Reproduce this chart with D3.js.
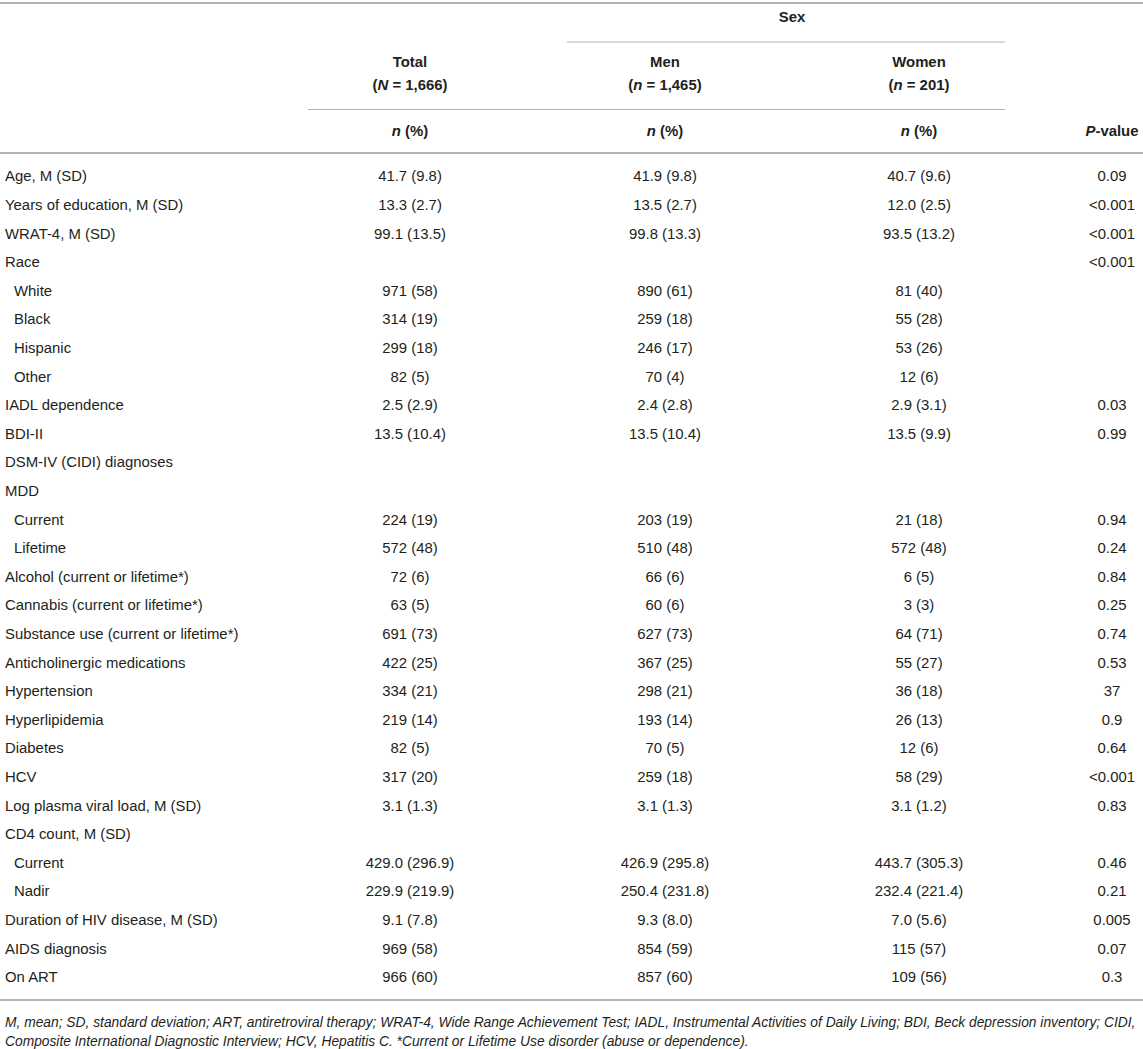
<!DOCTYPE html>
<html><head><meta charset="utf-8">
<script src="https://cdn.jsdelivr.net/npm/d3@7"></script>
<style>
html,body{margin:0;padding:0;background:#fff;}
svg{display:block;font-family:"Liberation Sans",Arial,Helvetica,sans-serif;}
</style></head>
<body>
<svg id="t" width="1143" height="1049"></svg>
<script>
const labels = ["Age, M (SD)","Years of education, M (SD)","WRAT-4, M (SD)","Race","White","Black","Hispanic","Other","IADL dependence","BDI-II","DSM-IV (CIDI) diagnoses","MDD","Current","Lifetime","Alcohol (current or lifetime*)","Cannabis (current or lifetime*)","Substance use (current or lifetime*)","Anticholinergic medications","Hypertension","Hyperlipidemia","Diabetes","HCV","Log plasma viral load, M (SD)","CD4 count, M (SD)","Current","Nadir","Duration of HIV disease, M (SD)","AIDS diagnosis","On ART"];
const indented = [0,0,0,0,1,1,1,1,0,0,0,0,1,1,0,0,0,0,0,0,0,0,0,0,1,1,0,0,0];
const totalVals = ["41.7 (9.8)","13.3 (2.7)","99.1 (13.5)","","971 (58)","314 (19)","299 (18)","82 (5)","2.5 (2.9)","13.5 (10.4)","","","224 (19)","572 (48)","72 (6)","63 (5)","691 (73)","422 (25)","334 (21)","219 (14)","82 (5)","317 (20)","3.1 (1.3)","","429.0 (296.9)","229.9 (219.9)","9.1 (7.8)","969 (58)","966 (60)"];
const menVals = ["41.9 (9.8)","13.5 (2.7)","99.8 (13.3)","","890 (61)","259 (18)","246 (17)","70 (4)","2.4 (2.8)","13.5 (10.4)","","","203 (19)","510 (48)","66 (6)","60 (6)","627 (73)","367 (25)","298 (21)","193 (14)","70 (5)","259 (18)","3.1 (1.3)","","426.9 (295.8)","250.4 (231.8)","9.3 (8.0)","854 (59)","857 (60)"];
const womenVals = ["40.7 (9.6)","12.0 (2.5)","93.5 (13.2)","","81 (40)","55 (28)","53 (26)","12 (6)","2.9 (3.1)","13.5 (9.9)","","","21 (18)","572 (48)","6 (5)","3 (3)","64 (71)","55 (27)","36 (18)","26 (13)","12 (6)","58 (29)","3.1 (1.2)","","443.7 (305.3)","232.4 (221.4)","7.0 (5.6)","115 (57)","109 (56)"];
const pVals = ["0.09","<0.001","<0.001","<0.001","","","","","0.03","0.99","","","0.94","0.24","0.84","0.25","0.74","0.53","37","0.9","0.64","<0.001","0.83","","0.46","0.21","0.005","0.07","0.3"];
const columns = ["Total","Men","Women","P-value"];
const footnote = ["M, mean; SD, standard deviation; ART, antiretroviral therapy; WRAT-4, Wide Range Achievement Test; IADL, Instrumental Activities of Daily Living; BDI, Beck depression inventory; CIDI,",
"Composite International Diagnostic Interview; HCV, Hepatitis C. *Current or Lifetime Use disorder (abuse or dependence)."];

const svg = d3.select("#t");
const W = 1143;
const ink = "#231f20";
const rule = "#b3b3b3";
const fs = 14.9;

// column scale
const x = d3.scaleOrdinal().domain(columns).range([410, 665, 919, 1112]);
// row scale
const y = d3.scaleLinear().domain([0, labels.length - 1]).range([176, 977]);

// rules
function hline(x1, x2, yy, w) {
  svg.append("line").attr("x1", x1).attr("x2", x2).attr("y1", yy).attr("y2", yy)
    .attr("stroke", rule).attr("stroke-width", w);
}
hline(0, W, 3, 2);
hline(567, 1005, 42, 1);
hline(308, 1005, 109.5, 1);
hline(0, W, 153, 2);
hline(0, W, 1000, 2);

function txt(xx, yy, anchor, parts, weight) {
  const t = svg.append("text").attr("x", xx).attr("y", yy).attr("text-anchor", anchor)
    .attr("font-size", fs).attr("fill", ink).attr("font-weight", weight || "normal");
  parts.forEach(p => {
    const s = t.append("tspan").text(p[0]);
    if (p[1]) s.attr("font-style", "italic");
  });
  return t;
}

// header
txt((x("Men") + x("Women")) / 2, 22, "middle", [["Sex"]], "bold");
txt(x("Total"), 67, "middle", [["Total"]], "bold");
txt(x("Men"), 67, "middle", [["Men"]], "bold");
txt(x("Women"), 67, "middle", [["Women"]], "bold");
txt(x("Total"), 90, "middle", [["("], ["N", 1], [" = 1,666)"]], "bold");
txt(x("Men"), 90, "middle", [["("], ["n", 1], [" = 1,465)"]], "bold");
txt(x("Women"), 90, "middle", [["("], ["n", 1], [" = 201)"]], "bold");
["Total", "Men", "Women"].forEach(c => txt(x(c), 136, "middle", [["n", 1], [" (%)"]], "bold"));
txt(x("P-value"), 136, "middle", [["P", 1], ["-value"]], "bold");

// body
const rows = labels.map((l, i) => ({label: l, ind: indented[i], vals: [totalVals[i], menVals[i], womenVals[i], pVals[i]]}));
const g = svg.append("g").selectAll("g").data(rows).join("g")
  .attr("transform", (d, i) => `translate(0,${y(i) + 5.3})`);
g.append("text").attr("x", d => d.ind ? 14 : 5).attr("font-size", fs).attr("fill", ink).text(d => d.label);
columns.forEach((c, ci) => {
  g.append("text").attr("x", x(c)).attr("text-anchor", "middle").attr("font-size", fs).attr("fill", ink)
    .text(d => d.vals[ci]);
});

// footnote
footnote.forEach((f, i) => {
  svg.append("text").attr("x", 5).attr("y", 1027 + i * 19).attr("font-size", 13.8)
    .attr("font-style", "italic").attr("fill", ink).text(f);
});
</script>
</body></html>
